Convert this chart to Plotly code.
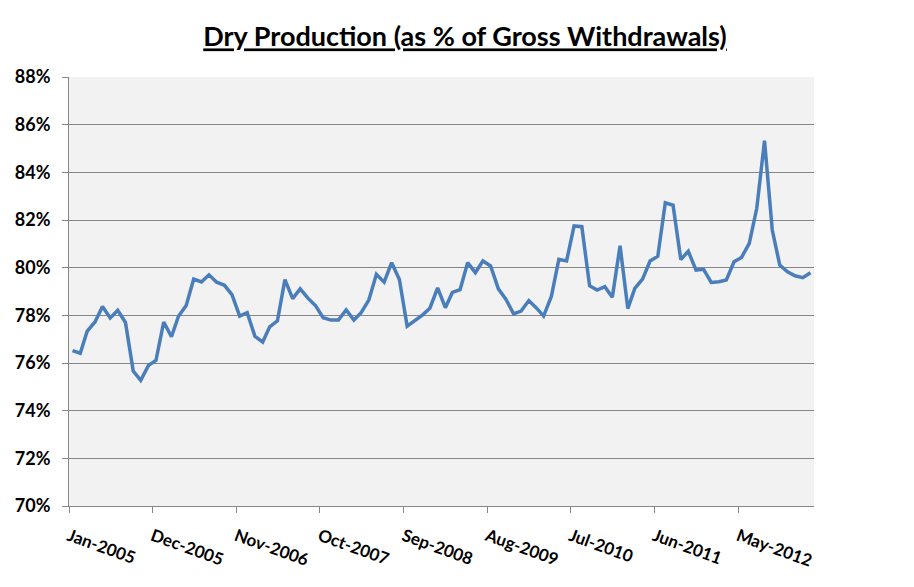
import plotly.graph_objects as go
import pandas as pd

# dry production as % of gross withdrawals, monthly from Jan-2005
dry_pct = [
    76.52, 76.41, 77.34, 77.72, 78.37, 77.89, 78.21, 77.70, 75.66, 75.27, 75.90, 76.11,
    77.72, 77.10, 77.96, 78.41, 79.52, 79.40, 79.70, 79.39, 79.26, 78.87, 77.97, 78.11,
    77.12, 76.88, 77.52, 77.77, 79.50, 78.70, 79.11, 78.72, 78.40, 77.90, 77.80, 77.80,
    78.23, 77.80, 78.11, 78.65, 79.72, 79.39, 80.21, 79.50, 77.55, 77.76, 78.01, 78.30,
    79.15, 78.32, 78.96, 79.08, 80.21, 79.79, 80.28, 80.07, 79.11, 78.68, 78.06, 78.18,
    78.62, 78.30, 77.97, 78.79, 80.35, 80.28, 81.75, 81.72, 79.24, 79.06, 79.20, 78.76,
    80.92, 78.28, 79.13, 79.52, 80.28, 80.48, 82.72, 82.62, 80.34, 80.69, 79.90, 79.93,
    79.38, 79.41, 79.48, 80.25, 80.43, 81.02, 82.49, 85.33, 81.58, 80.11, 79.83, 79.66,
    79.58, 79.79,
]
# monthly observations, plotted mid-month
months = pd.date_range("2005-01-01", periods=len(dry_pct), freq="MS") + pd.Timedelta(days=14)

font_name = "Lato"

fig = go.Figure(go.Scatter(
    x=months, y=dry_pct,
    mode="lines",
    line=dict(color="#4A7EBB", width=3.5),
    hoverinfo="x+y",
))

# the page body adds an 8px offset, so margins are trimmed by that much
fig.update_layout(
    width=914, height=587,
    title=dict(
        text="<b><u>Dry Production (as % of Gross Withdrawals)</u></b>",
        x=0.5, xanchor="center", y=1 - 29 / 587, yanchor="middle",
        font=dict(family=font_name, size=27, color="#000000"),
    ),
    paper_bgcolor="white",
    plot_bgcolor="#F2F2F2",
    margin=dict(l=61, r=108, t=69, b=89, autoexpand=False),
    showlegend=False,
    xaxis=dict(
        type="date",
        range=["2005-01-01", "2013-03-01"],
        tick0="2005-01-01", dtick="M11",
        tickformat="%b-%Y",
        tickangle=20,
        ticks="outside", ticklen=6, tickcolor="#868686",
        showline=True, linecolor="#868686", linewidth=1,
        showgrid=False, zeroline=False, automargin=False,
        ticklabelstandoff=7,
        tickfont=dict(family=font_name, size=17, color="#000000", weight="bold"),
    ),
    yaxis=dict(
        range=[70, 88], dtick=2, ticksuffix="%",
        ticks="outside", ticklen=6, tickcolor="#868686",
        showline=True, linecolor="#868686", linewidth=1,
        showgrid=True, gridcolor="#868686", gridwidth=1,
        zeroline=False, automargin=False, ticklabelstandoff=8,
        tickfont=dict(family=font_name, size=18, color="#000000", weight="bold"),
    ),
)

fig.write_html("out.html")
